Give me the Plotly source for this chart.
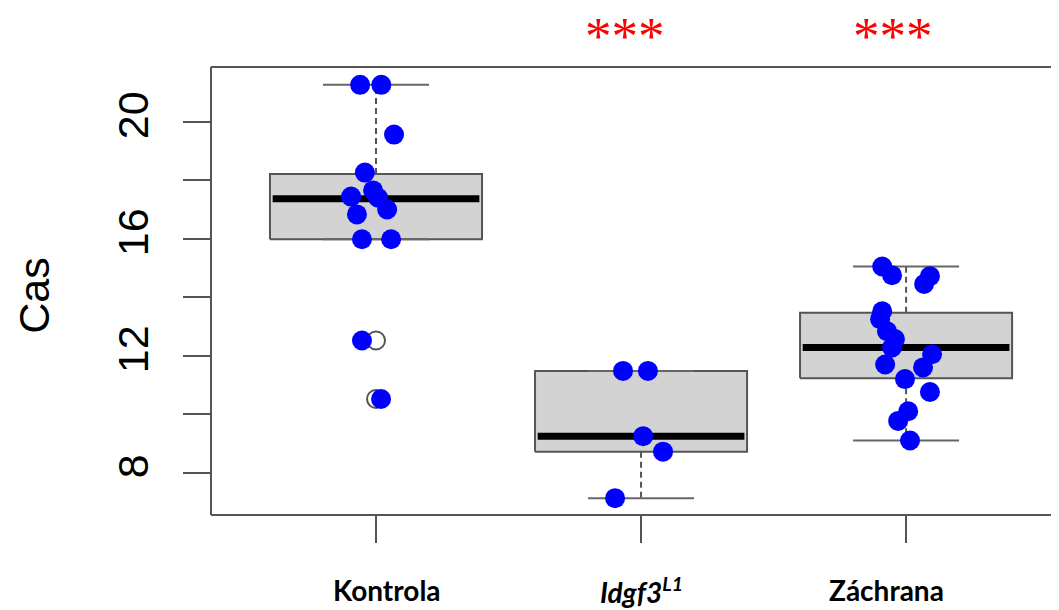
import plotly.graph_objects as go

# ---- data ----
groups = ["Kontrola", "Idgf3", "Záchrana"]
group_labels = ["<b>Kontrola</b>", "<b><i>Idgf3</i></b><b><i><sup>L1</sup></i></b>", "<b>Záchrana</b>"]
label_x = [1.042, 2.003, 2.928]
positions = [1, 2, 3]

# box statistics (R boxplot hinges)
q1 = [15.98, 8.72, 11.23]
med = [17.37, 9.25, 12.28]
q3 = [18.21, 11.48, 13.47]
whisk_lo = [15.98, 7.13, 9.10]
whisk_hi = [21.26, 11.48, 15.05]

# outliers
out_group = [1, 1]
out_vals = [12.52, 10.52]

# individual observations (jittered horizontally)
kontrola_y = [21.26, 21.26, 19.56, 18.26, 17.65, 17.40, 17.00, 17.44, 16.83, 15.98, 15.98, 12.52, 10.52]
kontrola_jit = [-0.06, 0.02, 0.068, -0.042, -0.011, 0.008, 0.042, -0.094, -0.072, -0.053, 0.057, -0.053, 0.019]

idgf3_y = [11.48, 11.48, 9.25, 8.72, 7.13]
idgf3_jit = [-0.068, 0.026, 0.008, 0.083, -0.098]

zachrana_y = [15.05, 14.75, 14.72, 14.45, 13.52, 13.25, 12.84, 12.57, 12.28, 11.70,
              12.05, 11.60, 11.20, 10.76, 10.10, 9.77, 9.10]
zachrana_jit = [-0.09, -0.053, 0.09, 0.068, -0.09, -0.098, -0.072, -0.042, -0.053, -0.079,
                0.098, 0.064, -0.004, 0.09, 0.008, -0.03, 0.015]

signif = ["", "***", "***"]
signif_x = [None, 1.94, 2.95]

y_tickvals = [8, 12, 16, 20]
y_ticktext = ["8", "12", "16", "20"]
y_minor_ticks = [10, 14, 18]

# ---- figure ----
BOXW = 0.8
STAPLE = 0.2
EDGE = "#555555"

fig = go.Figure()

for i, p in enumerate(positions):
    # box
    fig.add_trace(go.Scatter(
        x=[p - BOXW / 2, p + BOXW / 2, p + BOXW / 2, p - BOXW / 2, p - BOXW / 2],
        y=[q1[i], q1[i], q3[i], q3[i], q1[i]],
        mode="lines", fill="toself", fillcolor="#D3D3D3",
        line=dict(color=EDGE, width=2), hoverinfo="skip", showlegend=False))
    # median
    fig.add_trace(go.Scatter(
        x=[p - BOXW / 2 + 0.01, p + BOXW / 2 - 0.01], y=[med[i], med[i]],
        mode="lines", line=dict(color="black", width=7), hoverinfo="skip", showlegend=False))
    # whiskers (dashed)
    fig.add_trace(go.Scatter(
        x=[p, p, None, p, p], y=[q3[i], whisk_hi[i], None, q1[i], whisk_lo[i]],
        mode="lines", line=dict(color=EDGE, width=2, dash="6px,4px"),
        hoverinfo="skip", showlegend=False))
    # staples
    fig.add_trace(go.Scatter(
        x=[p - STAPLE, p + STAPLE, None, p - STAPLE, p + STAPLE],
        y=[whisk_hi[i], whisk_hi[i], None, whisk_lo[i], whisk_lo[i]],
        mode="lines", line=dict(color="#666666", width=2),
        hoverinfo="skip", showlegend=False))

# outliers (open circles)
fig.add_trace(go.Scatter(
    x=out_group, y=out_vals, mode="markers",
    marker=dict(symbol="circle-open", size=18, color="#555555", line=dict(width=2)),
    hoverinfo="skip", showlegend=False))

# jittered points
for p, ys, js in [(1, kontrola_y, kontrola_jit), (2, idgf3_y, idgf3_jit), (3, zachrana_y, zachrana_jit)]:
    fig.add_trace(go.Scatter(
        x=[p + j for j in js], y=ys, mode="markers",
        marker=dict(size=20, color="#0000FF", line=dict(width=0)),
        showlegend=False))

# frame (left, top, bottom) - right edge lies beyond the window
for (x0, y0, x1, y1) in [(0, 0, 0, 1), (0, 1, 1, 1), (0, 0, 1, 0)]:
    fig.add_shape(type="line", xref="paper", yref="paper", x0=x0, y0=y0, x1=x1, y1=y1,
                  line=dict(color=EDGE, width=2))

annotations = []
for i, p in enumerate(positions):
    annotations.append(dict(
        x=label_x[i], y=-0.168, xref="x", yref="paper", text=group_labels[i], showarrow=False,
        font=dict(family="Lato", size=28, color="black"), xanchor="center", yanchor="middle"))
    if signif[i]:
        annotations.append(dict(
            x=signif_x[i], y=1.069, xref="x", yref="paper", text=signif[i], showarrow=False,
            font=dict(family="Liberation Serif", size=53, color="red"),
            xanchor="center", yanchor="middle"))
annotations.append(dict(
    x=-0.209, y=0.489, xref="paper", yref="paper", text="Cas", showarrow=False, textangle=-90,
    font=dict(family="Liberation Sans", size=43, color="black"), xanchor="center", yanchor="middle"))

# the page puts the figure 8px in from the top-left corner of the window
fig.update_layout(
    width=1051, height=602,
    margin=dict(l=203, r=0, t=59, b=95, autoexpand=False),
    paper_bgcolor="white", plot_bgcolor="white",
    annotations=annotations,
    xaxis=dict(range=[0.3774, 3.577], showgrid=False, zeroline=False, showline=False,
               tickmode="array", tickvals=positions, showticklabels=False,
               ticks="outside", ticklen=27, tickwidth=2, tickcolor=EDGE, automargin=False),
    yaxis=dict(range=[6.554, 21.87], showgrid=False, zeroline=False, showline=False,
               tickmode="array", tickvals=y_tickvals, ticktext=y_ticktext,
               ticks="outside", ticklen=27, tickwidth=2, tickcolor=EDGE,
               minor=dict(tickmode="array", tickvals=y_minor_ticks, ticks="outside",
                          ticklen=27, tickwidth=2, tickcolor=EDGE, showgrid=False),
               tickangle=-90, ticklabelstandoff=18, automargin=False,
               tickfont=dict(family="Liberation Sans", size=43, color="black")),
)

fig.write_html("out.html")
